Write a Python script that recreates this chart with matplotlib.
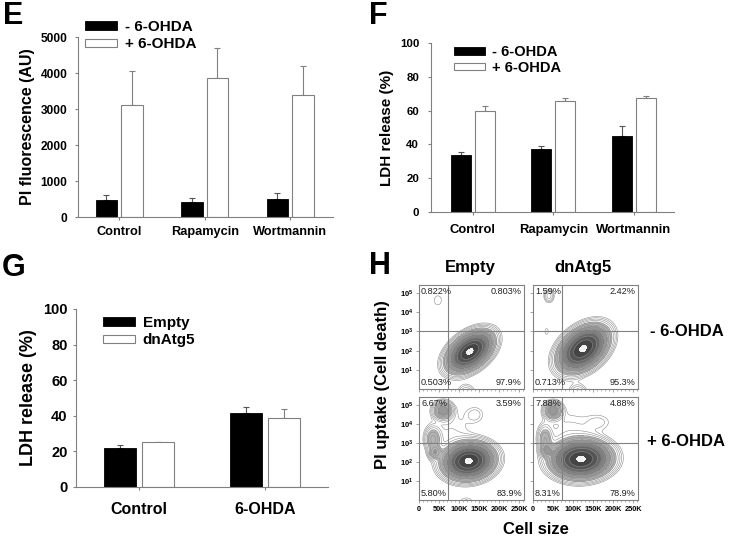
import numpy as np
import matplotlib
matplotlib.use('Agg')
import matplotlib.pyplot as plt
from matplotlib.ticker import FixedLocator, NullFormatter, LogLocator

plt.rcParams['font.family'] = 'Liberation Sans'
plt.rcParams['font.weight'] = 'bold'
plt.rcParams['mathtext.fontset'] = 'custom'
plt.rcParams['mathtext.rm'] = 'Liberation Sans:bold'
plt.rcParams['mathtext.default'] = 'rm'

# ---- panel E : PI fluorescence
e_groups = ['Control', 'Rapamycin', 'Wortmannin']
e_minus = [460, 425, 510]
e_minus_err = [157, 112, 157]
e_plus = [3120, 3870, 3380]
e_plus_err = [926, 830, 820]

# ---- panel F : LDH release
f_groups = ['Control', 'Rapamycin', 'Wortmannin']
f_minus = [33.8, 37.3, 45.0]
f_minus_err = [1.6, 1.8, 6.1]
f_plus = [59.7, 65.8, 67.2]
f_plus_err = [3.3, 1.4, 1.2]

# ---- panel G : LDH release, Empty vs dnAtg5
g_groups = ['Control', '6-OHDA']
g_empty = [21.9, 41.6]
g_empty_err = [1.9, 3.3]
g_dn = [25.1, 39.0]
g_dn_err = [0.3, 4.8]

# ---- panel H : flow cytometry, gaussian components (x in K, y in log10)
# top-left: Empty, - 6-OHDA
tl_cx = [127, 118, 47]
tl_cy = [1.95, -0.25, 4.62]
tl_sx = [26, 14, 13]
tl_sy = [0.48, 0.3, 0.35]
tl_rho = [0.45, 0.0, 0.0]
tl_w = [1.0, 0.03, 0.01]
tl_pct = ['0.822%', '0.803%', '0.503%', '97.9%']
# top-right: dnAtg5, - 6-OHDA
tr_cx = [125, 112, 40, 34]
tr_cy = [2.1, -0.25, 4.85, 3.0]
tr_sx = [28, 14, 8, 8]
tr_sy = [0.54, 0.3, 0.22, 0.3]
tr_rho = [0.4, 0.0, 0.0, 0.0]
tr_w = [1.0, 0.035, 0.03, 0.009]
tr_pct = ['1.59%', '2.42%', '0.713%', '95.3%']
# bottom-left: Empty, + 6-OHDA
bl_cx = [124, 60, 35, 40, 140, 80, 118]
bl_cy = [2.05, 4.7, 3.2, 2.5, 4.5, 3.5, -0.3]
bl_sx = [29, 13, 11, 9, 16, 40, 14]
bl_sy = [0.44, 0.25, 0.35, 0.2, 0.3, 0.9, 0.3]
bl_rho = [0.1, 0, 0, 0, 0, 0, 0]
bl_w = [1.0, 0.15, 0.08, 0.09, 0.014, 0.012, 0.02]
bl_pct = ['6.67%', '3.59%', '5.80%', '83.9%']
# bottom-right: dnAtg5, + 6-OHDA
br_cx = [120, 50, 30, 35, 165, 90]
br_cy = [2.15, 4.7, 3.2, 2.6, 4.1, 3.6]
br_sx = [34, 12, 10, 9, 22, 45]
br_sy = [0.46, 0.25, 0.4, 0.2, 0.3, 0.8]
br_rho = [0.05, 0, 0, 0, 0, 0]
br_w = [1.0, 0.15, 0.07, 0.09, 0.012, 0.014]
br_pct = ['7.88%', '4.88%', '8.31%', '78.9%']

facs_xticks = [0, 50e3, 100e3, 150e3, 200e3, 250e3]
facs_xlabels = ['0', '50K', '100K', '150K', '200K', '250K']
facs_yticks = [1e1, 1e2, 1e3, 1e4, 1e5]
facs_ylabels = ['$10^{1}$', '$10^{2}$', '$10^{3}$', '$10^{4}$', '$10^{5}$']

GRAY = '#808080'
W, H = 731, 540
fig = plt.figure(figsize=(W / 100, H / 100), dpi=100)


def box(l, t, r, b):
    return [l / W, 1 - b / H, (r - l) / W, (b - t) / H]


def bar_panel(ax, groups, a, aerr, b, berr, names, ymax, step, xlim,
              tfs, xfs, ypad, xpad, ylabel, lfs, leg_xy, lspace):
    x = np.arange(len(groups))
    bw = 0.25
    ax.bar(x - 0.15, a, bw, color='black', edgecolor='black', lw=0.6,
           label=names[0], zorder=2)
    ax.bar(x + 0.15, b, bw, color='white', edgecolor=GRAY, lw=0.8,
           label=names[1], zorder=2)
    ax.errorbar(x - 0.15, a, yerr=[np.zeros(len(a)), aerr], fmt='none',
                ecolor='#555555', elinewidth=0.8, capsize=2, capthick=0.8,
                zorder=1)
    ax.errorbar(x + 0.15, b, yerr=[np.zeros(len(b)), berr], fmt='none',
                ecolor=GRAY, elinewidth=0.8, capsize=2, capthick=0.8,
                zorder=1)
    ax.set_xlim(*xlim)
    ax.set_ylim(0, ymax)
    ax.set_yticks(np.arange(0, ymax + 1, step))
    ax.set_xticks(x)
    ax.set_xticklabels(groups, fontsize=xfs, fontweight='bold')
    ax.tick_params(axis='y', labelsize=tfs, pad=ypad, length=2.5,
                   width=0.8, color=GRAY)
    ax.tick_params(axis='x', pad=xpad, length=2.5, width=0.8, color=GRAY)
    for s in ['top', 'right']:
        ax.spines[s].set_visible(False)
    for s in ['left', 'bottom']:
        ax.spines[s].set_color(GRAY)
        ax.spines[s].set_linewidth(0.8)
    ax.set_ylabel(ylabel, fontsize=lfs + 0.5, fontweight='bold')
    ax.legend(loc='upper left', bbox_to_anchor=leg_xy,
              bbox_transform=fig.transFigure, frameon=False,
              fontsize=lfs, handlelength=2.1, handleheight=0.45,
              labelspacing=lspace, handletextpad=0.5, borderpad=0,
              borderaxespad=0)


def facs(ax, cx, cy, sx, sy, rho, w, pct, show_x, show_y):
    xs = np.linspace(0, 262.144, 320)
    ly = np.linspace(0, 5.42, 320)
    X, LY = np.meshgrid(xs, ly)
    D = np.zeros_like(X)
    for i in range(len(cx)):
        dx = (X - cx[i]) / sx[i]
        dy = (LY - cy[i]) / sy[i]
        q = (dx ** 2 - 2 * rho[i] * dx * dy + dy ** 2) / (1 - rho[i] ** 2)
        D += w[i] * np.exp(-0.5 * q)
    D /= D.max()
    XX = X * 1000
    YY = 10 ** LY
    ax.contourf(XX, YY, D,
                levels=[0.04, 0.1, 0.2, 0.34, 0.52, 0.72, 0.955, 1.01],
                colors=['#b4b4b4', '#989898', '#7e7e7e', '#686868',
                        '#555555', '#444444', '#f2f2f2'])
    ax.contour(XX, YY, D, levels=np.geomspace(0.008, 0.7, 13),
               colors='#8c8c8c', linewidths=0.4)
    ax.set_yscale('log')
    ax.set_xlim(0, 262144)
    ax.set_ylim(1, 262144)
    ax.axvline(73000, color=GRAY, lw=0.8)
    ax.axhline(1000, color=GRAY, lw=0.8)
    for s in ax.spines.values():
        s.set_color(GRAY)
        s.set_linewidth(0.8)
    ax.xaxis.set_major_locator(FixedLocator(facs_xticks))
    ax.xaxis.set_minor_locator(FixedLocator(np.arange(0, 262144, 10000)))
    ax.yaxis.set_major_locator(FixedLocator(facs_yticks))
    ax.yaxis.set_minor_locator(LogLocator(base=10, subs=np.arange(2, 10)))
    ax.yaxis.set_minor_formatter(NullFormatter())
    if show_x:
        ax.set_xticklabels(facs_xlabels, fontsize=5.3, fontweight='bold')
    else:
        ax.set_xticklabels([])
    if show_y:
        ax.set_yticklabels(facs_ylabels, fontsize=5.5)
    else:
        ax.set_yticklabels([])
    ax.tick_params(which='major', length=2, width=0.5, color=GRAY, pad=2)
    ax.tick_params(which='minor', length=1.2, width=0.4, color=GRAY)
    kw = dict(transform=ax.transAxes, fontsize=6.6, fontweight='normal',
              color='#222222')
    ax.text(0.02, 0.985, pct[0], ha='left', va='top', **kw)
    ax.text(0.98, 0.985, pct[1], ha='right', va='top', **kw)
    ax.text(0.02, 0.015, pct[2], ha='left', va='bottom', **kw)
    ax.text(0.98, 0.015, pct[3], ha='right', va='bottom', **kw)


# E
axE = fig.add_axes(box(78, 37, 333, 217))
bar_panel(axE, e_groups, e_minus, e_minus_err, e_plus, e_plus_err,
          ['- 6-OHDA', '+ 6-OHDA'], 5000, 1000, (-0.48, 2.5),
          8.6, 9.2, 5, 4, 'PI fluorescence (AU)', 11, (85 / W, 1 - 20 / H), 0.2)

# F
axF = fig.add_axes(box(431, 43, 674, 212))
bar_panel(axF, f_groups, f_minus, f_minus_err, f_plus, f_plus_err,
          ['- 6-OHDA', '+ 6-OHDA'], 100, 20, (-0.52, 2.5),
          8.2, 9.4, 6, 6, 'LDH release (%)', 10.5, (454 / W, 1 - 45 / H), 0.12)

# G
axG = fig.add_axes(box(76, 309, 328, 487))
bar_panel(axG, g_groups, g_empty, g_empty_err, g_dn, g_dn_err,
          ['Empty', 'dnAtg5'], 100, 20, (-0.5, 1.5),
          10.5, 11.5, 3.6, 8, 'LDH release (%)', 11, (103 / W, 1 - 316 / H), 0.22)
axG.yaxis.label.set_size(13)

# H
axTL = fig.add_axes(box(419, 285, 524, 389))
axTR = fig.add_axes(box(533, 285, 638, 389))
axBL = fig.add_axes(box(419, 397, 524, 500))
axBR = fig.add_axes(box(533, 397, 638, 500))
facs(axTL, tl_cx, tl_cy, tl_sx, tl_sy, tl_rho, tl_w, tl_pct, False, True)
facs(axTR, tr_cx, tr_cy, tr_sx, tr_sy, tr_rho, tr_w, tr_pct, False, False)
facs(axBL, bl_cx, bl_cy, bl_sx, bl_sy, bl_rho, bl_w, bl_pct, True, True)
facs(axBR, br_cx, br_cy, br_sx, br_sy, br_rho, br_w, br_pct, True, False)

fig.text(470 / W, 1 - 268 / H, 'Empty', ha='center', va='center', fontsize=12)
fig.text(583 / W, 1 - 268 / H, 'dnAtg5', ha='center', va='center', fontsize=12)
fig.text(650 / W, 1 - 332 / H, '- 6-OHDA', ha='left', va='center', fontsize=12)
fig.text(647 / W, 1 - 442 / H, '+ 6-OHDA', ha='left', va='center', fontsize=12)
fig.text(382 / W, 1 - 385 / H, 'PI uptake (Cell death)', ha='center',
         va='center', rotation=90, fontsize=12)
fig.text(536 / W, 1 - 530 / H, 'Cell size', ha='center', va='center',
         fontsize=12)

# panel letters
for letter, x, y in [('E', 3, 1), ('F', 369, 1), ('G', 2, 253), ('H', 369, 251)]:
    fig.text(x / W, 1 - y / H, letter, ha='left', va='top', fontsize=22,
             fontweight='bold')

fig.savefig('out.png', dpi=100)
